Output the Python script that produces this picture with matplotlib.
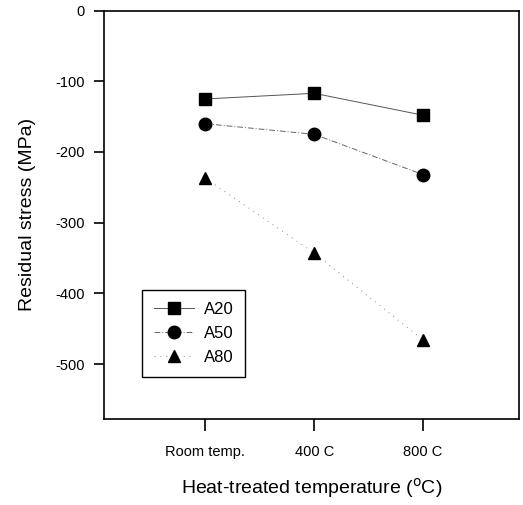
import matplotlib.pyplot as plt

plt.rcParams['font.family'] = ['Liberation Sans', 'DejaVu Sans']
plt.rcParams['axes.unicode_minus'] = False

## Donnees
categories = ['Room temp.', '400 C', '800 C']
positions = [1, 2, 3]
a20 = [-125, -117, -148]
a50 = [-160, -175, -232]
a80 = [-237, -343, -466]

fig = plt.figure(figsize=(5.23, 5.05), dpi=100)
ax = fig.add_axes([0.199, 0.170, 0.793, 0.809])

ax.plot(positions, a20, color='#555555', lw=0.7, ls='-', marker='s', ms=9,
        mfc='black', mec='black', label='A20')
ax.plot(positions, a50, color='#666666', lw=0.7, ls=(0, (6, 2, 1, 2)), marker='o', ms=9,
        mfc='black', mec='black', label='A50')
ax.plot(positions, a80, color='#888888', lw=0.7, ls=(0, (1, 5)), marker='^', ms=9,
        mfc='black', mec='black', label='A80')

ax.set_xlim(0.07, 3.88)
ax.set_ylim(-578, 0)
ax.set_xticks(positions)
ax.set_xticklabels(categories)
ax.set_yticks([0, -100, -200, -300, -400, -500])
ax.tick_params(axis='x', direction='out', length=8.5, width=1.2, labelsize=10.5, pad=10)
ax.tick_params(axis='y', direction='out', length=7, width=1.2, labelsize=10.5, pad=7)
for s in ax.spines.values():
    s.set_linewidth(1.2)

ax.set_xlabel('Heat-treated temperature ($^{\\rm o}$C)', fontsize=14, labelpad=12)
ax.set_ylabel('Residual stress (MPa)', fontsize=14, labelpad=14)

leg = ax.legend(loc='upper left', bbox_to_anchor=(0.092, 0.316), fontsize=12,
                fancybox=False, edgecolor='black', framealpha=1,
                handlelength=2.4, handletextpad=0.6, borderpad=0.7,
                labelspacing=0.55, borderaxespad=0)
leg.get_frame().set_linewidth(1.0)

plt.savefig('out.png', dpi=100)
